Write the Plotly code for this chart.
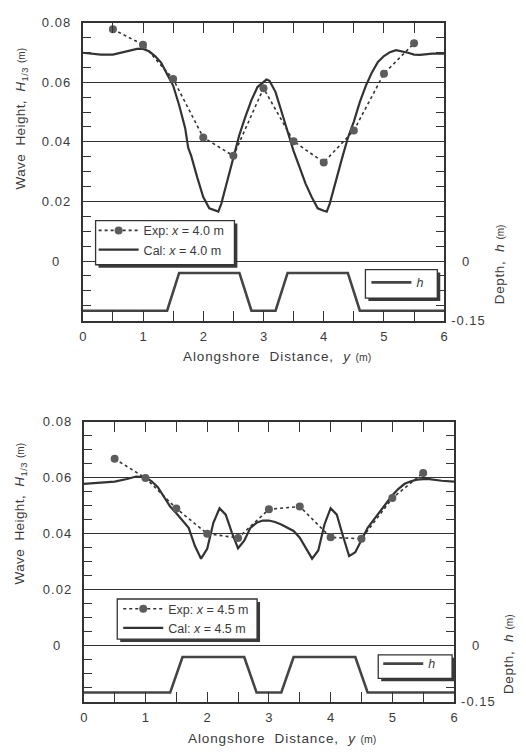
import plotly.graph_objects as go

W, H = 526, 754

# ---------------- data ----------------
exp_x = [0.5, 1.0, 1.5, 2.0, 2.5, 3.0, 3.5, 4.0, 4.5, 5.0, 5.5]
exp_top = [0.0778, 0.0726, 0.0611, 0.0415, 0.0353, 0.0580, 0.0402, 0.0331, 0.0438, 0.0629, 0.0731]
exp_bot = [0.0667, 0.0599, 0.0490, 0.0400, 0.0385, 0.0487, 0.0497, 0.0387, 0.0382, 0.0527, 0.0617]

cal_top_x = [0, 0.3, 0.5, 0.7, 0.9, 1.0, 1.1, 1.2, 1.3, 1.4, 1.5, 1.6, 1.7, 1.75, 1.8, 1.9, 2.0, 2.1, 2.2,
             2.25, 2.3, 2.4, 2.5, 2.6, 2.7, 2.8, 2.9, 3.0, 3.05, 3.1, 3.2, 3.3, 3.4, 3.5, 3.6, 3.7, 3.8,
             3.9, 4.0, 4.05, 4.1, 4.2, 4.3, 4.4, 4.5, 4.6, 4.7, 4.8, 4.9, 5.0, 5.1, 5.2, 5.3, 5.4, 5.5,
             5.6, 5.8, 6.0]
cal_top_y = [0.0699, 0.0693, 0.0693, 0.0703, 0.0712, 0.0712, 0.0704, 0.0688, 0.0666, 0.0627, 0.0589,
             0.0523, 0.0446, 0.0380, 0.0353, 0.0281, 0.0215, 0.0177, 0.0169, 0.0166, 0.0193, 0.0270,
             0.0347, 0.0424, 0.0485, 0.0540, 0.0584, 0.0600, 0.0609, 0.0605, 0.0567, 0.0501, 0.0435,
             0.0369, 0.0314, 0.0259, 0.0215, 0.0177, 0.0169, 0.0166, 0.0193, 0.0270, 0.0342, 0.0413,
             0.0468, 0.0534, 0.0589, 0.0633, 0.0668, 0.0688, 0.0701, 0.0708, 0.0704, 0.0699, 0.0693,
             0.0692, 0.0696, 0.0696]

cal_bot_x = [0, 0.5, 0.7, 0.85, 1.0, 1.1, 1.2, 1.3, 1.4, 1.5, 1.6, 1.7, 1.8, 1.9, 2.0, 2.1, 2.2, 2.3,
             2.4, 2.5, 2.6, 2.7, 2.8, 2.9, 3.0, 3.1, 3.2, 3.3, 3.4, 3.5, 3.6, 3.7, 3.8, 3.9, 4.0, 4.1,
             4.2, 4.3, 4.4, 4.5, 4.6, 4.7, 4.8, 4.9, 5.0, 5.1, 5.2, 5.3, 5.4, 5.5, 5.6, 5.8, 6.0]
cal_bot_y = [0.0578, 0.0586, 0.0595, 0.0604, 0.0601, 0.0587, 0.0566, 0.0531, 0.0497, 0.0473, 0.0448,
             0.0421, 0.0357, 0.0311, 0.0346, 0.0439, 0.0491, 0.0468, 0.0404, 0.0348, 0.0375, 0.0421,
             0.0439, 0.0447, 0.0447, 0.0442, 0.0433, 0.0421, 0.0410, 0.0386, 0.0346, 0.0311, 0.0340,
             0.0433, 0.0491, 0.0468, 0.0392, 0.0320, 0.0334, 0.0380, 0.0421, 0.0450, 0.0479, 0.0508,
             0.0537, 0.0560, 0.0578, 0.0587, 0.0593, 0.0595, 0.0595, 0.0589, 0.0586]

depth_x = [0, 1.4, 1.6, 2.6, 2.8, 3.2, 3.4, 4.4, 4.6, 6.0]
depth_h = [-0.125, -0.125, -0.03, -0.03, -0.125, -0.125, -0.03, -0.03, -0.125, -0.125]

x_ticks = [0, 1, 2, 3, 4, 5, 6]
y_ticks = [0, 0.02, 0.04, 0.06, 0.08]
y_tick_labels = ["0", "0.02", "0.04", "0.06", "0.08"]
h_ticks = [0, -0.15]
h_tick_labels = ["0", "-0.15"]

exp_labels = ["Exp: <i>x</i> = 4.0 m", "Exp: <i>x</i> = 4.5 m"]
cal_labels = ["Cal: <i>x</i> = 4.0 m", "Cal: <i>x</i> = 4.5 m"]

# ---------------- style ----------------
INK = "#333333"
TXT = "#3a3a3a"
FONT = "Liberation Sans, Arial, sans-serif"


def sp(t, ls):
    return "<span style='letter-spacing:%spx'>%s</span>" % (ls, t)


y_tick_text = [sp(t, 1) + ("\u00a0\u00a0\u00a0" if t == "0" else "") for t in y_tick_labels]
h_tick_text = [("\u00a0\u00a0\u00a0" if t == "0" else "") + sp(t, 1) for t in h_tick_labels]


def px_x(p):
    return p / W


def px_y(p):
    return 1 - p / H


# legend anchor (x, y) and the drawn box (x0, y0, x1, y1), in page pixels
panels = [
    dict(xd=[80, 447], yd=[16, 320], exp=exp_top, cx=cal_top_x, cy=cal_top_y,
         leg1=(91, 213), box1=(93, 218, 234, 263),
         leg2=(368, 266), box2=(367, 268, 440, 297)),
    dict(xd=[81, 457], yd=[423, 709], exp=exp_bot, cx=cal_bot_x, cy=cal_bot_y,
         leg1=(116, 599), box1=(115, 604, 257, 645),
         leg2=(380, 655), box2=(380, 661, 455, 685)),
]

fig = go.Figure()
layout = dict(
    width=W, height=H, margin=dict(l=0, r=0, t=0, b=0),
    paper_bgcolor="white", plot_bgcolor="white", showlegend=True,
    font=dict(family=FONT, size=12, color=TXT),
    annotations=[], shapes=[],
)

for i, p in enumerate(panels):
    xa = "x" if i == 0 else "x2"
    ya = "y" if i == 0 else "y3"
    yh = "y2" if i == 0 else "y4"
    xkey = "xaxis" if i == 0 else "xaxis2"
    ykey = "yaxis" if i == 0 else "yaxis3"
    hkey = "yaxis2" if i == 0 else "yaxis4"
    lg1 = "legend" if i == 0 else "legend3"
    lg2 = "legend2" if i == 0 else "legend4"

    fig.add_trace(go.Scatter(x=p["cx"], y=p["cy"], mode="lines", name=cal_labels[i],
                             line=dict(color=INK, width=2.2), xaxis=xa, yaxis=ya,
                             legend=lg1, legendrank=2))
    fig.add_trace(go.Scatter(x=exp_x, y=p["exp"], mode="lines+markers", name=exp_labels[i],
                             line=dict(color=INK, width=1.6, dash="dot"),
                             marker=dict(color="#5c5c5c", size=8), xaxis=xa, yaxis=ya,
                             legend=lg1, legendrank=1))
    fig.add_trace(go.Scatter(x=depth_x, y=depth_h, mode="lines", name="<i>h</i>",
                             line=dict(color="#444444", width=2.6), xaxis=xa, yaxis=yh,
                             legend=lg2))

    dom_x = [px_x(p["xd"][0]), px_x(p["xd"][1])]
    dom_y = [px_y(p["yd"][1]), px_y(p["yd"][0])]
    layout[xkey] = dict(domain=dom_x, anchor=ya, range=[0, 6], tickvals=x_ticks,
                        ticks="inside", ticklen=10, tickwidth=1.3, tickcolor=INK,
                        minor=dict(dtick=0.5, ticks="inside", ticklen=5, tickwidth=1.3, tickcolor=INK),
                        showline=True, linewidth=2, linecolor=INK, mirror="allticks",
                        showgrid=False, zeroline=False, tickfont=dict(size=13),
                        ticklabelstandoff=3)
    layout[ykey] = dict(domain=dom_y, anchor=xa, range=[-0.02, 0.08], tickvals=y_ticks,
                        ticktext=y_tick_text, ticks="inside", ticklen=8, tickwidth=1.3, tickcolor=INK,
                        minor=dict(dtick=0.005, ticks="inside", ticklen=8, tickwidth=1.3, tickcolor=INK),
                        showline=True, linewidth=2, linecolor=INK, mirror="allticks",
                        showgrid=True, gridcolor=INK, gridwidth=1.4, zeroline=False,
                        ticklabelstandoff=7, tickfont=dict(size=13))
    layout[hkey] = dict(overlaying=ya, anchor=xa, side="right", range=[-0.15, 0.6],
                        tickvals=h_ticks, ticktext=h_tick_text, ticks="", showgrid=False,
                        zeroline=False, showline=False, ticklabelstandoff=6,
                        tickfont=dict(size=13))

    for key, (lx, ly), (bx0, by0, bx1, by1) in ((lg1, p["leg1"], p["box1"]),
                                               (lg2, p["leg2"], p["box2"])):
        layout[key] = dict(x=px_x(lx), y=px_y(ly), xanchor="left", yanchor="top",
                           bgcolor="rgba(0,0,0,0)", borderwidth=0, itemwidth=40,
                           font=dict(size=12.5, color=TXT), tracegroupgap=0)
        # drop shadow, then the white framed legend box
        layout["shapes"].append(dict(type="rect", xref="paper", yref="paper",
                                     x0=px_x(bx0 + 3), x1=px_x(bx1 + 3),
                                     y0=px_y(by1 + 3), y1=px_y(by0 + 3),
                                     fillcolor="#3a3a3a", line=dict(width=0), layer="above"))
        layout["shapes"].append(dict(type="rect", xref="paper", yref="paper",
                                     x0=px_x(bx0), x1=px_x(bx1), y0=px_y(by1), y1=px_y(by0),
                                     fillcolor="white", line=dict(width=1.3, color=INK),
                                     layer="above"))

# axis titles as annotations
ytitle = sp("Wave  Height,  <i>H</i><sub>1/3</sub> ", 0.4) + "<span style='font-size:10px'>(m)</span>"
htitle = sp("Depth,  <i>h</i> ", 0.6) + "<span style='font-size:10px'>(m)</span>"
xtitle = sp("Alongshore  Distance,  <i>y</i> ", 0.9) + "<span style='font-size:10.5px'>(m)</span>"
titles = [
    (ytitle, 18, 114, -90),
    (htitle, 503, 262, -90),
    (xtitle, 277, 357, 0),
    (ytitle, 17, 517, -90),
    (htitle, 513, 660, -90),
    (xtitle, 282, 746, 0),
]
for t, xp, yp, ang in titles:
    layout["annotations"].append(dict(text=t, x=px_x(xp), y=px_y(yp), xref="paper", yref="paper",
                                      showarrow=False, textangle=ang, xanchor="center",
                                      yanchor="middle", font=dict(size=13.5, color=TXT)))

fig.update_layout(**layout)
fig.write_html("out.html", config={"displayModeBar": False},
               post_script="document.body.style.margin='0px';")
